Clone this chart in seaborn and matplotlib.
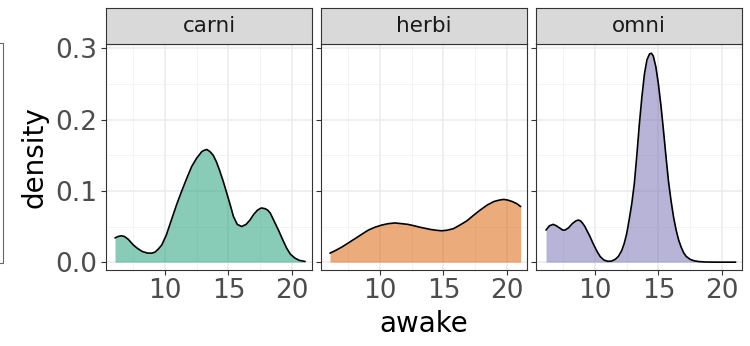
import numpy as np
import pandas as pd
import matplotlib
matplotlib.use("Agg")
import matplotlib.pyplot as plt
from matplotlib.patches import Rectangle
from matplotlib.ticker import FormatStrFormatter
import seaborn as sns

# Density curves of hours awake, one per diet group
vores = ["carni", "herbi", "omni"]

carni_awake = [6.05, 6.3, 6.55, 6.8, 7.1, 7.5, 7.85, 8.2, 8.6, 8.95, 9.2, 9.45,
               9.74, 10.1, 10.5, 10.9, 11.3, 11.7, 12.1, 12.5, 12.9, 13.1, 13.3,
               13.55, 13.8, 14.05, 14.3, 14.6, 14.87, 15.15, 15.4, 15.7, 16.05,
               16.4, 16.7, 17.0, 17.3, 17.6, 17.9, 18.1, 18.3, 18.6, 18.95, 19.3,
               19.6, 19.9, 20.26, 20.6, 21.05]
carni_density = [0.034, 0.036, 0.037, 0.036, 0.032, 0.024, 0.019, 0.015, 0.0128,
                 0.0126, 0.014, 0.018, 0.024, 0.038, 0.059, 0.080, 0.099, 0.117,
                 0.134, 0.146, 0.155, 0.157, 0.158, 0.155, 0.150, 0.141, 0.129,
                 0.113, 0.097, 0.080, 0.064, 0.053, 0.050, 0.053, 0.059, 0.067,
                 0.073, 0.076, 0.075, 0.073, 0.069, 0.058, 0.045, 0.031, 0.0196,
                 0.011, 0.0056, 0.0025, 0.001]

herbi_awake = [6.05, 6.5, 6.97, 7.5, 8.03, 8.55, 9.08, 9.6, 10.13, 10.65, 11.18,
               11.7, 12.2, 12.7, 13.15, 13.55, 13.94, 14.4, 14.87, 15.3, 15.8,
               16.3, 16.86, 17.4, 17.9, 18.45, 18.98, 19.4, 19.77, 20.1, 20.44,
               20.8, 21.1]
herbi_density = [0.0126, 0.0165, 0.021, 0.027, 0.033, 0.039, 0.045, 0.049, 0.052,
                 0.054, 0.055, 0.054, 0.053, 0.051, 0.049, 0.0475, 0.046, 0.0448,
                 0.044, 0.0448, 0.047, 0.052, 0.058, 0.066, 0.073, 0.080, 0.085,
                 0.087, 0.088, 0.087, 0.085, 0.082, 0.078]

omni_awake = [6.13, 6.4, 6.7, 6.95, 7.2, 7.45, 7.63, 7.9, 8.2, 8.5, 8.68, 8.85,
              9.0, 9.2, 9.34, 9.6, 9.85, 10.13, 10.4, 10.7, 11.0, 11.3, 11.6,
              11.84, 12.1, 12.3, 12.5, 12.7, 12.9, 13.1, 13.3, 13.5, 13.7, 13.9,
              14.1, 14.3, 14.45, 14.6, 14.8, 15.0, 15.2, 15.4, 15.6, 15.8, 16.0,
              16.2, 16.4, 16.6, 16.8, 17.0, 17.2, 17.5, 17.8, 18.2, 18.7, 19.5,
              20.5, 21.1]
omni_density = [0.045, 0.051, 0.053, 0.051, 0.048, 0.045, 0.045, 0.048, 0.054,
                0.058, 0.059, 0.058, 0.055, 0.050, 0.045, 0.036, 0.026, 0.016,
                0.008, 0.003, 0.0012, 0.0015, 0.004, 0.008, 0.016, 0.026, 0.040,
                0.060, 0.082, 0.110, 0.150, 0.194, 0.232, 0.264, 0.284, 0.292,
                0.293, 0.289, 0.274, 0.250, 0.220, 0.185, 0.148, 0.113, 0.086,
                0.063, 0.045, 0.031, 0.021, 0.013, 0.008, 0.004, 0.002, 0.0008,
                0.0002, 0.0, 0.0, 0.0]

fill_colors = ["#1B9E77", "#D95F02", "#7570B3"]

y_ticks = [0.0, 0.1, 0.2, 0.3]
x_ticks = [10, 15, 20]

curves = pd.concat([
    pd.DataFrame({"vore": "carni", "awake": carni_awake, "density": carni_density}),
    pd.DataFrame({"vore": "herbi", "awake": herbi_awake, "density": herbi_density}),
    pd.DataFrame({"vore": "omni", "awake": omni_awake, "density": omni_density}),
], ignore_index=True)

sns.set_theme(style="white")
plt.rcParams["font.family"] = ["DejaVu Sans"]

W, H = 750, 346
fig = plt.figure(figsize=(W / 100, H / 100), dpi=100)


def px_axes(left, top, right, bottom):
    return fig.add_axes([left / W, 1 - bottom / H, (right - left) / W, (bottom - top) / H])


panel_x = [(106, 312), (321, 527), (536, 742)]
plot_top, plot_bottom = 44, 270
strip_top = 8
border = "#333333"

for i, (vore, color) in enumerate(zip(vores, fill_colors)):
    l, r = panel_x[i]
    ax = px_axes(l, plot_top, r, plot_bottom)
    sub = curves[curves["vore"] == vore]
    ax.fill_between(sub["awake"], 0, sub["density"], color=color, alpha=0.52, lw=0)
    sns.lineplot(data=sub, x="awake", y="density", ax=ax, color="black",
                 lw=1.2, sort=False)

    ax.set_xlim(5.34, 21.6)
    ax.set_ylim(-0.011, 0.306)
    ax.set_xticks(x_ticks)
    ax.set_xticks([7.5, 12.5, 17.5], minor=True)
    ax.set_yticks(y_ticks)
    ax.set_yticks([0.05, 0.15, 0.25], minor=True)
    ax.yaxis.set_major_formatter(FormatStrFormatter("%.1f"))
    ax.grid(which="major", color="#EBEBEB", lw=1.1)
    ax.grid(which="minor", color="#F2F2F2", lw=0.6)
    ax.set_axisbelow(True)
    for s in ax.spines.values():
        s.set_color(border)
        s.set_linewidth(0.8)
    ax.tick_params(which="major", direction="out", length=3.5, width=0.8,
                   color=border, labelsize=19, labelcolor="#4D4D4D", pad=2.5)
    ax.tick_params(axis="both", which="both", bottom=True, left=True)
    ax.tick_params(axis="x", which="minor", bottom=False)
    ax.tick_params(axis="y", which="minor", left=False)
    ax.set_xlabel("")
    ax.set_ylabel("")
    if i > 0:
        ax.tick_params(axis="y", labelleft=False)

    # facet strip
    sax = px_axes(l, strip_top, r, plot_top)
    sax.set_facecolor("#D9D9D9")
    sax.set_xticks([])
    sax.set_yticks([])
    for s in sax.spines.values():
        s.set_color(border)
        s.set_linewidth(0.8)
    sax.text(0.5, 0.5, vore, ha="center", va="center", fontsize=15.5,
             color="#1A1A1A", transform=sax.transAxes)

fig.text(34 / W, 1 - 157 / H, "density", rotation=90, ha="center", va="center",
         fontsize=20, color="black")
fig.text(424 / W, 1 - 324 / H, "awake", ha="center", va="center",
         fontsize=20, color="black")

# edge of the neighbouring frame on the far left
fig.add_artist(Rectangle((-0.05, 1 - 263 / H), 0.05 + 3 / W, (263 - 43) / H,
                         transform=fig.transFigure, fill=False,
                         edgecolor="#666666", lw=0.8))

fig.savefig("out.png", dpi=100)
